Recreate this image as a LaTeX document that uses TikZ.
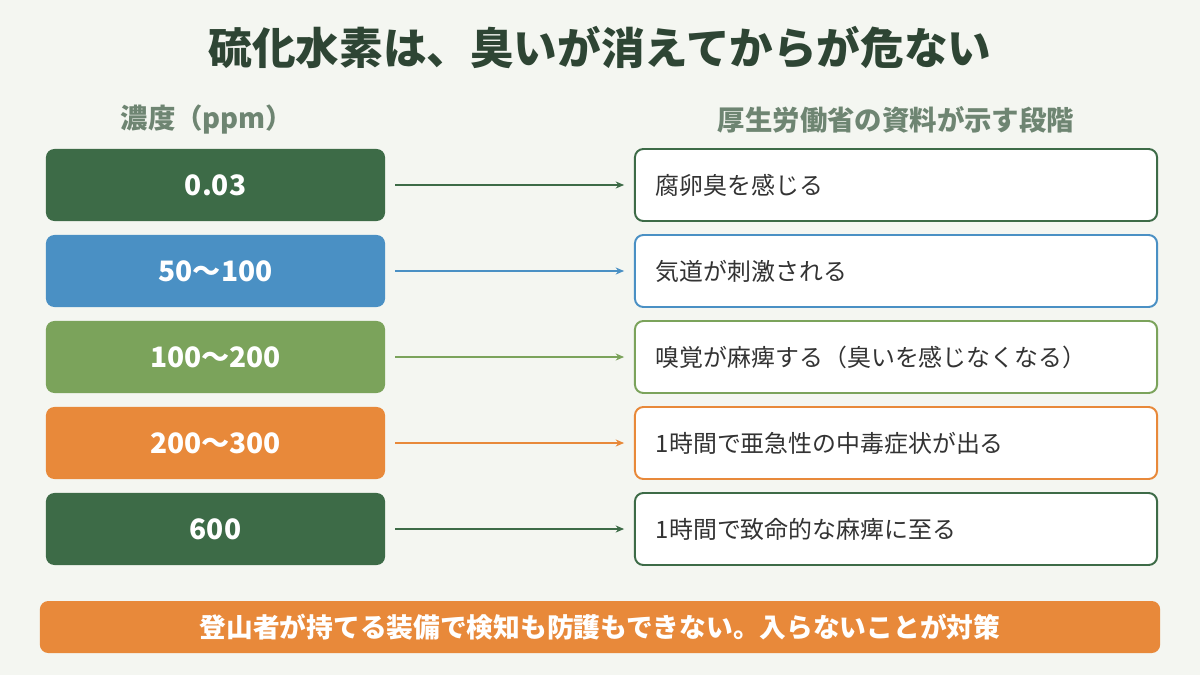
\documentclass[tikz,border=0pt]{standalone}
\usepackage{fontspec}
\setmainfont{Noto Sans CJK JP}
\usetikzlibrary{arrows.meta}
\definecolor{bgc}{HTML}{F4F6F1}
\definecolor{dkgreen}{HTML}{3D6B47}
\definecolor{blu}{HTML}{4A90C4}
\definecolor{ltgreen}{HTML}{7BA35B}
\definecolor{orng}{HTML}{E8893A}
\definecolor{titlec}{HTML}{2E4534}
\definecolor{headc}{HTML}{6E8572}
\definecolor{bodyc}{HTML}{333333}
\tikzset{
  ppm/.style={rounded corners=6pt, minimum width=8.475cm, minimum height=1.8cm, text=white, font=\fontsize{20}{24}\selectfont\bfseries},
  stage/.style={rounded corners=6pt, draw, line width=1.4pt, fill=white, minimum width=13.05cm, minimum height=1.8cm, text width=12.0cm, align=left, text=bodyc, font=\fontsize{17}{20}\selectfont},
  link/.style={-{Stealth[length=6pt,width=5pt]}, line width=1.1pt}
}
\begin{document}
\begin{tikzpicture}[x=0.025cm,y=-0.025cm]
\fill[bgc] (0,0) rectangle (1200,675);
% Title and headers
\node[text=titlec, font=\fontsize{31}{36}\selectfont\bfseries] (title) at (600,48) {硫化水素は、臭いが消えてからが危ない};
\node[text=headc, font=\fontsize{19.5}{23}\selectfont\bfseries] (lhead) at (207,120) {濃度（ppm）};
\node[text=headc, font=\fontsize{19.5}{23}\selectfont\bfseries] (rhead) at (896,120) {厚生労働省の資料が示す段階};
% Rows
\foreach \i/\y/\col/\val/\txt in {
  1/185/dkgreen/0.03/腐卵臭を感じる,
  2/271/blu/50〜100/気道が刺激される,
  3/357/ltgreen/100〜200/嗅覚が麻痺する（臭いを感じなくなる）,
  4/443/orng/200〜300/1時間で亜急性の中毒症状が出る,
  5/529/dkgreen/600/1時間で致命的な麻痺に至る}{
  \node[ppm, fill=\col] (c\i) at (215.5,\y) {\val};
  \node[stage, draw=\col] (s\i) at (896,\y) {\txt};
  \draw[link, draw=\col] ([xshift=7pt]c\i.east) -- ([xshift=-7pt]s\i.west);
}
% Bottom note
\node[fill=orng, rounded corners=6pt, minimum width=28cm, minimum height=1.3cm, text=white, font=\fontsize{19}{22}\selectfont\bfseries] (note) at (600,627) {登山者が持てる装備で検知も防護もできない。入らないことが対策};
\end{tikzpicture}
\end{document}
